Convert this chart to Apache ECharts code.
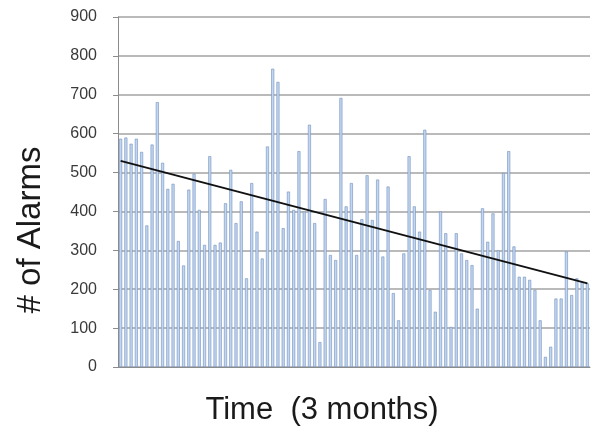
<!DOCTYPE html>
<html lang="en" style="height: 100%">
<head>
    <meta charset="utf-8">
    <title># of Alarms</title>
</head>
<body style="height: 100%; margin: 0; background: #fff">
    <div id="container" style="width: 594px; height: 438px"></div>
    <script src="https://cdn.jsdelivr.net/npm/echarts@6/dist/echarts.min.js"></script>
    <script>
        // daily alarm counts (about 90 days)
        var alarms = [587, 590, 574, 587, 553, 364, 572, 681, 525, 458,
                      471, 324, 261, 456, 497, 404, 314, 542, 314, 320,
                      421, 507, 370, 426, 228, 473, 348, 279, 567, 767,
                      733, 357, 451, 404, 555, 400, 623, 370, 64, 432,
                      288, 275, 692, 413, 473, 288, 380, 493, 378, 482,
                      284, 464, 190, 120, 292, 542, 413, 348, 610, 198,
                      142, 400, 344, 103, 344, 292, 275, 262, 150, 408,
                      322, 395, 300, 499, 555, 310, 232, 232, 224, 198,
                      120, 26, 52, 176, 176, 297, 185, 228, 219, 215];
        var days = alarms.map(function (v, i) { return String(i + 1); });
        // trend line, start and end value
        var trendEnds = [530, 215];
        var yTicks = [0, 900, 100]; // min, max, step

        var trend = days.map(function (d, i) {
            if (i === 0) return trendEnds[0];
            if (i === days.length - 1) return trendEnds[1];
            return null;
        });

        var myChart = echarts.init(document.getElementById('container'), null, { renderer: 'canvas' });

        var option = {
            animation: false,
            grid: { left: 118, right: 4, top: 17, bottom: 71 },
            xAxis: {
                type: 'category',
                data: days,
                axisLine: { lineStyle: { color: '#8c8c8c', width: 1 } },
                axisTick: { interval: 0, length: 4, lineStyle: { color: '#8c8c8c' } },
                axisLabel: { show: false }
            },
            yAxis: {
                type: 'value',
                min: yTicks[0],
                max: yTicks[1],
                interval: yTicks[2],
                axisLine: { show: true, lineStyle: { color: '#8c8c8c' } },
                axisTick: { show: true, length: 5, lineStyle: { color: '#8c8c8c' } },
                axisLabel: {
                    margin: 21,
                    color: '#3a3a3a',
                    fontFamily: 'Liberation Sans',
                    fontSize: 16
                },
                splitLine: { lineStyle: { color: '#a3a3a3', width: 1.5 } }
            },
            series: [
                {
                    type: 'bar',
                    data: alarms,
                    barWidth: 3,
                    itemStyle: {
                        color: '#c3d6ef',
                        borderColor: '#6f8fc0',
                        borderWidth: 0.6
                    }
                },
                {
                    type: 'line',
                    data: trend,
                    connectNulls: true,
                    symbol: 'none',
                    lineStyle: { color: '#111', width: 2 }
                }
            ],
            graphic: [
                {
                    type: 'text',
                    x: 31,
                    y: 230,
                    rotation: Math.PI / 2,
                    style: {
                        text: '# of Alarms',
                        fontFamily: 'Liberation Sans',
                        fontSize: 33,
                        fill: '#1a1a1a',
                        align: 'center',
                        verticalAlign: 'middle'
                    }
                },
                {
                    type: 'text',
                    x: 322,
                    y: 410,
                    style: {
                        text: 'Time  (3 months)',
                        fontFamily: 'Liberation Sans',
                        fontSize: 31,
                        fill: '#1a1a1a',
                        align: 'center',
                        verticalAlign: 'middle'
                    }
                }
            ]
        };

        myChart.setOption(option);
        window.addEventListener('resize', myChart.resize);
    </script>
</body>
</html>
